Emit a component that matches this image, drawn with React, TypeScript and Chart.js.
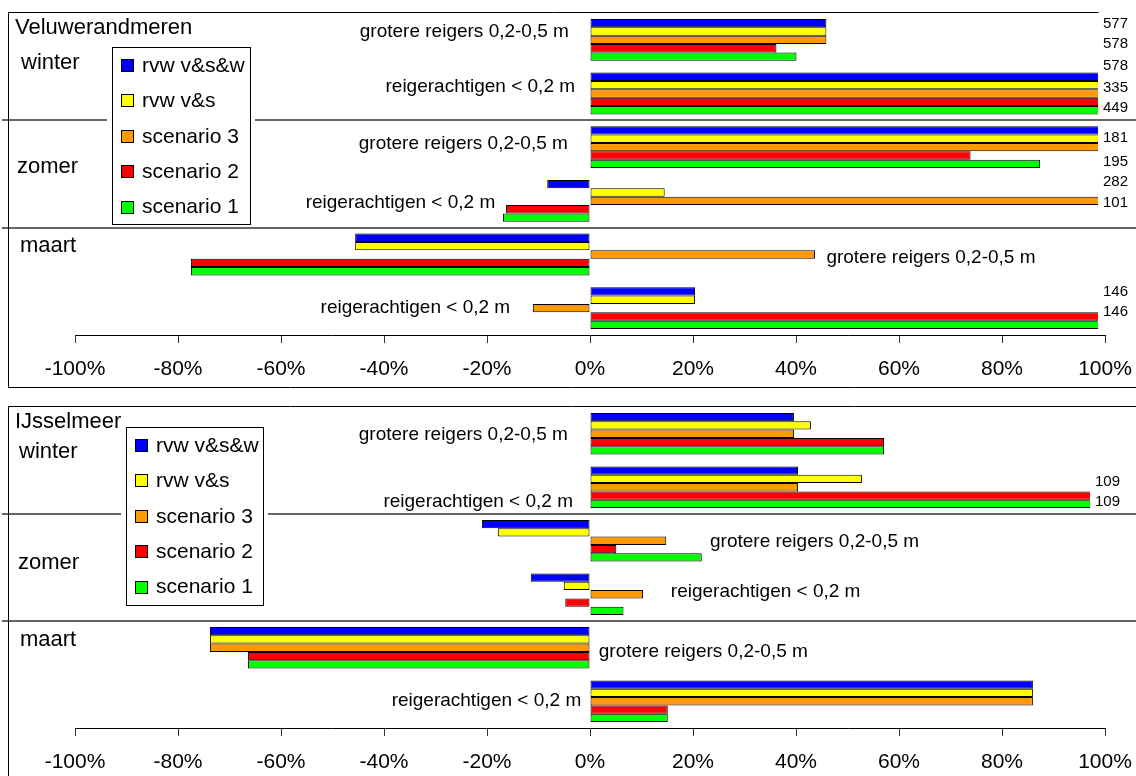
import React, { useEffect, useRef } from "react";
import { Chart, registerables } from "chart.js";

Chart.register(...registerables);

const FONT = "'Liberation Sans', Arial, Helvetica, sans-serif";

// ---------- data ----------
const categories = [
  "grotere reigers 0,2-0,5 m",
  "reigerachtigen < 0,2 m",
  "grotere reigers 0,2-0,5 m",
  "reigerachtigen < 0,2 m",
  "grotere reigers 0,2-0,5 m",
  "reigerachtigen < 0,2 m",
];
const seasons = ["winter", "zomer", "maart"];
const seriesNames = ["rvw v&s&w", "rvw v&s", "scenario 3", "scenario 2", "scenario 1"];
const seriesColors = ["#0000FF", "#FFFF00", "#FF9900", "#FF0000", "#00FF00"];
const xTickValues = [-100, -80, -60, -40, -20, 0, 20, 40, 60, 80, 100];

// Veluwerandmeren (% change)
const veluRvwVSW = [45.9, 577, 181, -8.3, -45.6, 20.4];
const veluRvwVS = [45.9, 578, 195, 14.5, -45.6, 20.4];
const veluScen3 = [45.9, 578, 282, 101, 43.7, -11.1];
const veluScen2 = [36.2, 335, 73.9, -16.3, -77.5, 146];
const veluScen1 = [40.1, 449, 87.4, -16.9, -77.5, 146];

// IJsselmeer (% change)
const ijsRvwVSW = [39.6, 40.4, -21.0, -11.5, -73.8, 86.0];
const ijsRvwVS = [42.9, 52.8, -17.9, -5.1, -73.8, 86.0];
const ijsScen3 = [39.6, 40.4, 14.8, 10.3, -73.8, 86.0];
const ijsScen2 = [57.1, 109, 5.1, -4.8, -66.4, 15.1];
const ijsScen1 = [57.1, 109, 21.7, 6.5, -66.4, 15.1];

// ---------- layout ----------
type LabelLayout = { x: number; align: "left" | "right"; dy: number };
type Panel = {
  title: string;
  series: number[][];
  canvasTop: number;
  canvasHeight: number;
  padTop: number;
  axisHeight: number;
  clipRight: number;
  frame: number[][];
  legendBox: { x: number; y: number; w: number; h: number };
  titlePos: number[];
  seasonPos: number[][];
  catLabels: LabelLayout[];
  overflowPos: number[];
};

const veluPanel: Panel = {
  title: "Veluwerandmeren",
  series: [veluRvwVSW, veluRvwVS, veluScen3, veluScen2, veluScen1],
  canvasTop: 0,
  canvasHeight: 395,
  padTop: 13,
  axisHeight: 60,
  clipRight: -7,
  frame: [
    [8, 12, 1098, 12],
    [8, 12, 8, 387],
    [8, 387, 1136, 387],
  ],
  legendBox: { x: 112, y: 47, w: 138, h: 177 },
  titlePos: [15, 28],
  seasonPos: [
    [21, 63],
    [17, 167],
    [20, 246],
  ],
  catLabels: [
    { x: -4.1, align: "right", dy: -0.146 },
    { x: -2.9, align: "right", dy: -0.121 },
    { x: -4.3, align: "right", dy: -0.059 },
    { x: -18.4, align: "right", dy: 0.04 },
    { x: 45.9, align: "left", dy: 0.065 },
    { x: -15.5, align: "right", dy: -0.003 },
  ],
  overflowPos: [-0.295, 0.078, 0.488, 0.897, 1.27, 1.829, 2.277, 2.649, 3.04, 4.698, 5.071],
};

const ijsPanel: Panel = {
  title: "IJsselmeer",
  series: [ijsRvwVSW, ijsRvwVS, ijsScen3, ijsScen2, ijsScen1],
  canvasTop: 395,
  canvasHeight: 381,
  padTop: 12,
  axisHeight: 48,
  clipRight: -15,
  frame: [
    [8, 11, 1136, 11],
    [8, 11, 8, 381],
  ],
  legendBox: { x: 126, y: 32, w: 137, h: 178 },
  titlePos: [15, 27],
  seasonPos: [
    [19, 57],
    [18, 168],
    [20, 245],
  ],
  catLabels: [
    { x: -4.3, align: "right", dy: 0.01 },
    { x: -3.3, align: "right", dy: 0.278 },
    { x: 23.3, align: "left", dy: 0.023 },
    { x: 15.7, align: "left", dy: -0.046 },
    { x: 1.7, align: "left", dy: 0.072 },
    { x: -1.7, align: "right", dy: -0.015 },
  ],
  overflowPos: [0.905, 1.278],
};

function makeDeco(p: Panel) {
  return {
    id: "panelDeco",
    beforeDatasetsDraw(chart: any) {
      const ctx = chart.ctx as CanvasRenderingContext2D;
      const ys = chart.scales.y;
      ctx.save();
      ctx.strokeStyle = "#000";
      ctx.lineWidth = 1;
      for (const [x1, y1, x2, y2] of p.frame) {
        ctx.beginPath();
        ctx.moveTo(x1 + 0.5, y1 + 0.5);
        ctx.lineTo(x2 + 0.5, y2 + 0.5);
        ctx.stroke();
      }
      ctx.strokeStyle = "#333";
      ctx.lineWidth = 1.5;
      for (const k of [2, 4]) {
        const sy = Math.round((ys.getPixelForValue(k - 1) + ys.getPixelForValue(k)) / 2);
        ctx.beginPath();
        ctx.moveTo(2, sy);
        ctx.lineTo(chart.width, sy);
        ctx.stroke();
      }
      ctx.restore();
    },
    afterDraw(chart: any) {
      const ctx = chart.ctx as CanvasRenderingContext2D;
      const xs = chart.scales.x;
      const ys = chart.scales.y;
      const area = chart.chartArea;
      ctx.save();
      ctx.fillStyle = "#000";
      ctx.textBaseline = "middle";

      // title + seasons
      ctx.font = `22px ${FONT}`;
      ctx.textAlign = "left";
      ctx.fillText(p.title, p.titlePos[0], p.titlePos[1]);
      seasons.forEach((s, i) => ctx.fillText(s, p.seasonPos[i][0], p.seasonPos[i][1]));

      // category labels
      ctx.font = `19px ${FONT}`;
      (chart.data.labels as string[]).forEach((lab, i) => {
        const l = p.catLabels[i];
        ctx.textAlign = l.align;
        ctx.fillText(lab, xs.getPixelForValue(l.x), ys.getPixelForValue(i + l.dy));
      });

      // values beyond the axis
      ctx.font = `15px ${FONT}`;
      ctx.textAlign = "left";
      const over: number[] = [];
      const ds = chart.data.datasets;
      for (let i = 0; i < categories.length; i++) {
        for (let d = 0; d < ds.length; d++) {
          const v = ds[d].data[i] as number;
          if (v > xs.max) over.push(v);
        }
      }
      const ox = area.right + p.clipRight + 5;
      over.forEach((v, k) => {
        ctx.fillText(String(Math.round(v)), ox, ys.getPixelForValue(p.overflowPos[k]));
      });

      // legend
      const lb = p.legendBox;
      ctx.fillStyle = "#fff";
      ctx.fillRect(lb.x - 5, lb.y - 3, lb.w + 10, lb.h + 6);
      ctx.strokeStyle = "#000";
      ctx.lineWidth = 1;
      ctx.strokeRect(lb.x + 0.5, lb.y + 0.5, lb.w, lb.h);
      ctx.font = `21px ${FONT}`;
      ds.forEach((d: any, i: number) => {
        const cy = lb.y + 18 + i * 35.4;
        ctx.fillStyle = d.backgroundColor;
        ctx.fillRect(lb.x + 9, Math.round(cy - 6), 12, 12);
        ctx.strokeRect(lb.x + 9.5, Math.round(cy - 6) + 0.5, 12, 12);
        ctx.fillStyle = "#000";
        ctx.fillText(d.label, lb.x + 30, cy + 1);
      });
      ctx.restore();
    },
  };
}

function PanelChart({ panel }: { panel: Panel }) {
  const ref = useRef<HTMLCanvasElement>(null);
  useEffect(() => {
    const canvas = ref.current;
    if (!canvas) return;
    const chart = new Chart(canvas, {
      type: "bar",
      data: {
        labels: categories,
        datasets: panel.series.map((vals, i) => ({
          label: seriesNames[i],
          data: vals,
          backgroundColor: seriesColors[i],
          borderColor: "#000",
          borderWidth: 1,
          borderSkipped: false,
          categoryPercentage: 0.78,
          barPercentage: 1.0,
          clip: { left: 0, top: 0, right: panel.clipRight, bottom: 0 },
        })),
      },
      options: {
        indexAxis: "y",
        responsive: false,
        animation: false,
        events: [],
        layout: { padding: { top: panel.padTop, left: 75, right: 31, bottom: 0 } },
        plugins: { legend: { display: false }, tooltip: { enabled: false } },
        scales: {
          y: { type: "category", display: false, offset: true },
          x: {
            type: "linear",
            min: -100,
            max: 100,
            afterBuildTicks: (s: any) => {
              s.ticks = xTickValues.map((v) => ({ value: v }));
            },
            afterFit: (s: any) => {
              s.height = panel.axisHeight;
              s.paddingLeft = 0;
              s.paddingRight = 0;
            },
            ticks: {
              callback: (v: any) => `${v}%`,
              font: { size: 21, family: FONT },
              color: "#000",
              padding: 14,
              maxRotation: 0,
              autoSkip: false,
            },
            grid: { drawOnChartArea: false, drawTicks: true, tickLength: 8, color: "#333", lineWidth: 1 },
            border: { display: true, color: "#000", width: 1 },
          },
        },
      } as any,
      plugins: [makeDeco(panel)],
    });
    return () => chart.destroy();
  }, [panel]);
  return (
    <canvas
      ref={ref}
      width={1136}
      height={panel.canvasHeight}
      style={{ position: "absolute", left: 0, top: panel.canvasTop, width: 1136, height: panel.canvasHeight }}
    />
  );
}

export default function App() {
  return (
    <div style={{ position: "fixed", left: 0, top: 0, width: 1136, height: 776, background: "#fff", overflow: "hidden" }}>
      <PanelChart panel={veluPanel} />
      <PanelChart panel={ijsPanel} />
    </div>
  );
}
